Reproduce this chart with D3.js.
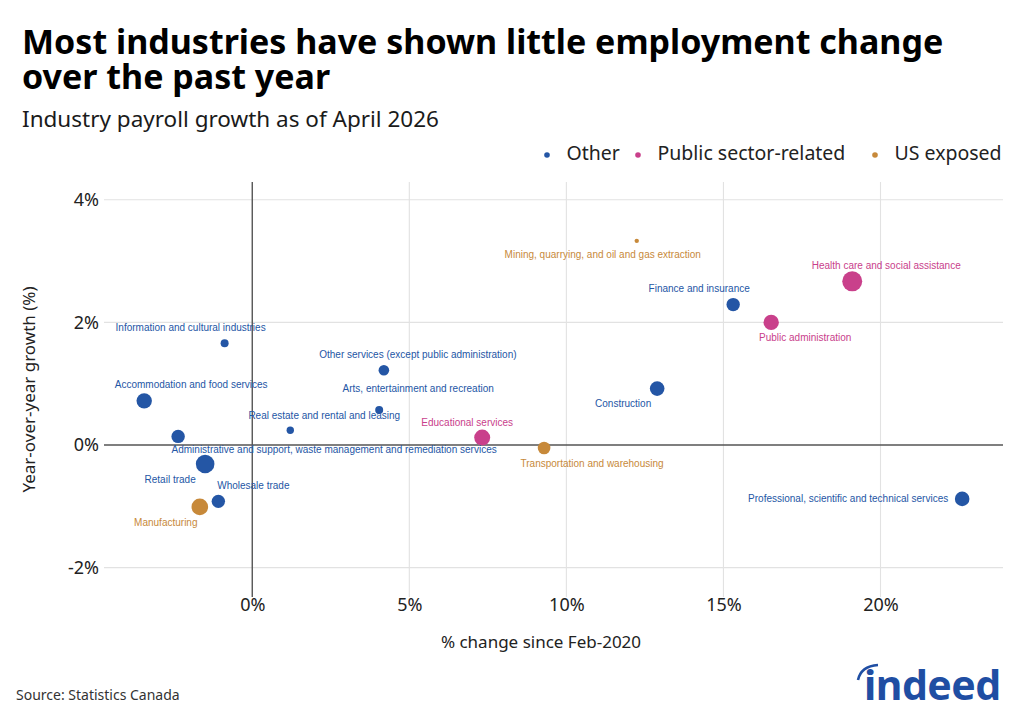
<!DOCTYPE html>
<html>
<head>
<meta charset="utf-8">
<script src="https://cdn.jsdelivr.net/npm/d3@7"></script>
<style>
  body { margin: 0; background: #fff; }
  svg { display: block; font-family: "Noto Sans", sans-serif; }
</style>
</head>
<body>
<div id="chart"></div>
<script>
// data
var industries = [
  "Information and cultural industries",
  "Accommodation and food services",
  "Administrative and support, waste management and remediation services",
  "Retail trade",
  "Wholesale trade",
  "Manufacturing",
  "Real estate and rental and leasing",
  "Other services (except public administration)",
  "Arts, entertainment and recreation",
  "Educational services",
  "Transportation and warehousing",
  "Mining, quarrying, and oil and gas extraction",
  "Finance and insurance",
  "Construction",
  "Public administration",
  "Health care and social assistance",
  "Professional, scientific and technical services"
]
var sinceFeb2020 = [-0.88, -3.44, -2.36, -1.50, -1.08, -1.67, 1.21, 4.19, 4.04, 7.32, 9.29, 12.24, 15.31, 12.89, 16.52, 19.10, 22.60]
var yoyGrowth = [1.66, 0.72, 0.14, -0.31, -0.92, -1.01, 0.24, 1.22, 0.57, 0.12, -0.05, 3.33, 2.29, 0.92, 2.00, 2.67, -0.88]
var employment = [368, 1364, 1032, 1989, 1032, 1584, 315, 646, 368, 1472, 913, 110, 1032, 1226, 1364, 2300, 1226]
var group = ["Other", "Other", "Other", "Other", "Other", "US exposed", "Other", "Other", "Other",
  "Public sector-related", "US exposed", "US exposed", "Other", "Other", "Public sector-related",
  "Public sector-related", "Other"]

var groups = ["Other", "Public sector-related", "US exposed"]
var groupColors = ["#2456a5", "#c9408b", "#c7893a"]

var xTicks = [0, 5, 10, 15, 20]
var yTicks = [-2, 0, 2, 4]

// label nudges (px) from each point, like the repel layout
var labelNudge = [[-34, -15], [47, -15], [156, 14], [-35, 16], [35, -15], [-34, 16], [34, -14], [34, -15],
  [39, -21], [-15, -14], [48, 16], [-34, 15], [-34, -15], [-34, 16], [34, 16], [34, -15], [-114, 0]]

var W = 1024, H = 717
var plot = {left: 104, right: 1003, top: 182, bottom: 597}

var svg = d3.select("#chart").append("svg")
  .attr("width", W).attr("height", H)

// titles
var title = svg.append("text")
  .style("font-size", "34px").style("font-weight", "bold").style("fill", "#000")
title.append("tspan").attr("x", 22).attr("y", 54).text("Most industries have shown little employment change")
title.append("tspan").attr("x", 22).attr("y", 89).text("over the past year")
svg.append("text").attr("x", 22).attr("y", 127)
  .style("font-size", "22.5px").style("fill", "#1a1a1a")
  .text("Industry payroll growth as of April 2026")

var x = d3.scaleLinear().domain([-4.72, 23.9]).range([plot.left, plot.right])
var y = d3.scaleLinear().domain([-2.48, 4.29]).range([plot.bottom, plot.top])
var r = d3.scaleSqrt().domain([0, 2300]).range([0, 10])
var color = d3.scaleOrdinal().domain(groups).range(groupColors)

// grid
svg.append("g").selectAll("line").data(yTicks.filter(d => d != 0)).enter().append("line")
  .attr("x1", plot.left).attr("x2", plot.right)
  .attr("y1", d => y(d)).attr("y2", d => y(d))
  .style("stroke", "#e2e2e2").style("stroke-width", 1.1)
svg.append("g").selectAll("line").data(xTicks.filter(d => d != 0)).enter().append("line")
  .attr("y1", plot.top).attr("y2", plot.bottom)
  .attr("x1", d => x(d)).attr("x2", d => x(d))
  .style("stroke", "#e2e2e2").style("stroke-width", 1.1)

// zero lines
svg.append("line").attr("x1", plot.left).attr("x2", plot.right)
  .attr("y1", y(0)).attr("y2", y(0))
  .style("stroke", "#555").style("stroke-width", 1.4)
svg.append("line").attr("x1", x(0)).attr("x2", x(0))
  .attr("y1", plot.top).attr("y2", plot.bottom)
  .style("stroke", "#555").style("stroke-width", 1.4)

// axes
svg.append("g")
  .attr("transform", "translate(0," + plot.bottom + ")")
  .call(d3.axisBottom(x).tickValues(xTicks).tickSize(0).tickPadding(1).tickFormat(d => d + "%"))
svg.append("g")
  .attr("transform", "translate(" + plot.left + ",0)")
  .call(d3.axisLeft(y).tickValues(yTicks).tickSize(0).tickPadding(5).tickFormat(d => d + "%"))
svg.selectAll(".domain").remove()
svg.selectAll(".tick text")
  .style("font-family", "Noto Sans").style("font-size", "18px").style("fill", "#222")

svg.append("text")
  .attr("transform", "translate(30," + ((plot.top + plot.bottom) / 2) + ")rotate(-90)")
  .attr("text-anchor", "middle").attr("dominant-baseline", "middle")
  .style("font-size", "17px").style("fill", "#222")
  .text("Year-over-year growth (%)")
svg.append("text").attr("x", 541).attr("y", 648)
  .attr("text-anchor", "middle")
  .style("font-size", "17px").style("fill", "#222")
  .text("% change since Feb-2020")

// points
var pts = industries.map(function(name, i) {
  return {name: name, x: sinceFeb2020[i], y: yoyGrowth[i], emp: employment[i], group: group[i], nudge: labelNudge[i]}
})

svg.append("g").selectAll("circle").data(pts).enter().append("circle")
  .attr("cx", d => x(d.x)).attr("cy", d => y(d.y))
  .attr("r", d => r(d.emp))
  .style("fill", d => color(d.group))

svg.append("g").selectAll("text").data(pts).enter().append("text")
  .attr("x", d => x(d.x) + d.nudge[0]).attr("y", d => y(d.y) + d.nudge[1])
  .attr("text-anchor", "middle").attr("dominant-baseline", "middle")
  .style("font-family", "Liberation Sans, Arial, sans-serif").style("font-size", "10px")
  .style("fill", d => color(d.group))
  .text(d => d.name)

// legend
var legX = [547, 638, 875]
var leg = svg.append("g").selectAll("g").data(groups).enter().append("g")
  .attr("transform", (d, i) => "translate(" + legX[i] + ",155)")
leg.append("circle").attr("r", 2.8).style("fill", d => color(d))
leg.append("text").attr("x", 19.5).attr("dominant-baseline", "middle")
  .style("font-size", "19.5px").style("fill", "#222")
  .text(d => d)

// source + logo
svg.append("text").attr("x", 16).attr("y", 700)
  .style("font-size", "14px").style("fill", "#333")
  .text("Source: Statistics Canada")
svg.append("path")
  .attr("d", "M858,680 Q861,666 878,665")
  .style("fill", "none").style("stroke", "#1f4ea3").style("stroke-width", 2.6)
svg.append("text").attr("x", 864).attr("y", 700)
  .style("font-size", "41px").style("font-weight", "bold").style("fill", "#1f4ea3")
  .style("letter-spacing", "-0.5px")
  .text("indeed")
</script>
</body>
</html>
